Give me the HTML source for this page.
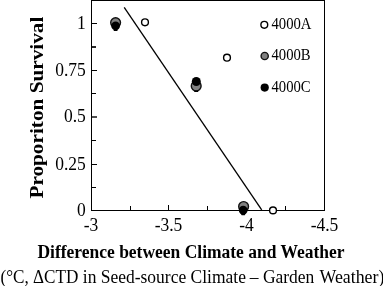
<!DOCTYPE html>
<html><head><meta charset="utf-8">
<style>
html,body{margin:0;padding:0;background:#fff;width:383px;height:286px;overflow:hidden}
svg{display:block;will-change:transform}
text{font-family:"Liberation Serif",serif;fill:#000}
.t{font-size:17.5px}
.lg{font-size:14.7px}
.b{font-weight:bold}
</style></head><body>
<svg width="383" height="286" viewBox="0 0 383 286">
<rect x="91.5" y="0.5" width="233" height="210" fill="none" stroke="#000" stroke-width="1"/>
<g stroke="#000" stroke-width="1">
<line x1="91.5" y1="23.5" x2="97" y2="23.5"/>
<line x1="91.5" y1="47" x2="96" y2="47" stroke-width="1.7"/>
<line x1="91.5" y1="70.5" x2="97" y2="70.5"/>
<line x1="91.5" y1="93.5" x2="96" y2="93.5"/>
<line x1="91.5" y1="117" x2="97" y2="117" stroke-width="1.4"/>
<line x1="91.5" y1="140.5" x2="96" y2="140.5"/>
<line x1="91.5" y1="164.5" x2="97" y2="164.5"/>
<line x1="91.5" y1="187.5" x2="96" y2="187.5"/>
<line x1="130.5" y1="210.5" x2="130.5" y2="206"/>
<line x1="168.5" y1="210.5" x2="168.5" y2="205"/>
<line x1="207.5" y1="210.5" x2="207.5" y2="206"/>
<line x1="246.5" y1="210.5" x2="246.5" y2="205"/>
<line x1="285.5" y1="210.5" x2="285.5" y2="206"/>
</g>

<text class="t" text-anchor="end" transform="translate(85.8,28.6) scale(1.0,1.1)">1</text>
<text class="t" text-anchor="end" transform="translate(85.8,76.4) scale(1.0,1.1)">0.75</text>
<text class="t" text-anchor="end" transform="translate(85.8,122.3) scale(1.0,1.1)">0.5</text>
<text class="t" text-anchor="end" transform="translate(85.8,169.6) scale(1.0,1.1)">0.25</text>
<text class="t" text-anchor="end" transform="translate(85.8,216.1) scale(1.0,1.1)">0</text>
<text class="t" text-anchor="middle" transform="translate(91,231.0) scale(1.0,1.1)">-3</text>
<text class="t" text-anchor="middle" transform="translate(168.5,231.0) scale(1.0,1.1)">-3.5</text>
<text class="t" text-anchor="middle" transform="translate(246.5,231.0) scale(1.0,1.1)">-4</text>
<text class="t" text-anchor="middle" transform="translate(324.5,231.0) scale(1.0,1.1)">-4.5</text>

<line x1="124.2" y1="7.3" x2="261.7" y2="209.8" stroke="#000" stroke-width="1.3"/>
<g fill="#fff" stroke="#000" stroke-width="1.4">
<circle cx="145" cy="22.3" r="3.4"/>
<circle cx="227" cy="57.7" r="3.4"/>
<circle cx="273" cy="210.4" r="3.4"/>
<circle cx="264.3" cy="24.8" r="3.4"/>
</g>
<g fill="#808080" stroke="#111" stroke-width="1.4">
<circle cx="115.6" cy="22.6" r="4.9"/>
<circle cx="196.2" cy="86" r="4.9"/>
<circle cx="243.6" cy="206.5" r="4.9"/>
<circle cx="264.7" cy="56" r="3.6"/>
</g>
<g fill="#000">
<circle cx="115.6" cy="25.8" r="4.4"/>
<circle cx="196.3" cy="81.5" r="4.5"/>
<circle cx="243.2" cy="210.2" r="4.4"/>
<circle cx="264.7" cy="87.6" r="4.1"/>
<rect x="113.6" y="29.3" width="4" height="1.6" rx="0.6"/>
<rect x="194.2" y="90.6" width="4" height="1.5" rx="0.6"/>
<rect x="241.2" y="213.6" width="4" height="1.6" rx="0.6"/>
</g>

<text class="lg" transform="translate(271.5,28.9) scale(1.0,1.1)">4000A</text>
<text class="lg" transform="translate(271.5,60.4) scale(1.0,1.1)">4000B</text>
<text class="lg" transform="translate(271.5,92.4) scale(1.0,1.1)">4000C</text>
<text class="t b" transform="translate(42.5,198.6) rotate(-90) scale(1.215,1.06)">Proporiton Survival</text>
<text class="t b" text-anchor="middle" transform="translate(191,257.7) scale(1.0,1.1)">Difference between Climate and Weather</text>
<text class="t" transform="translate(0.5,283.1) scale(0.98,1.1)">(°C, ΔCTD</text>
<text class="t" transform="translate(82.8,283.1) scale(1.0,1.1)">in Seed-source Climate</text>
<text class="t" transform="translate(249.8,283.1) scale(1.0,1.1)">– Garden</text>
<text class="t" transform="translate(319.5,283.1) scale(1.02,1.1)">Weather)</text>

</svg>
</body></html>
